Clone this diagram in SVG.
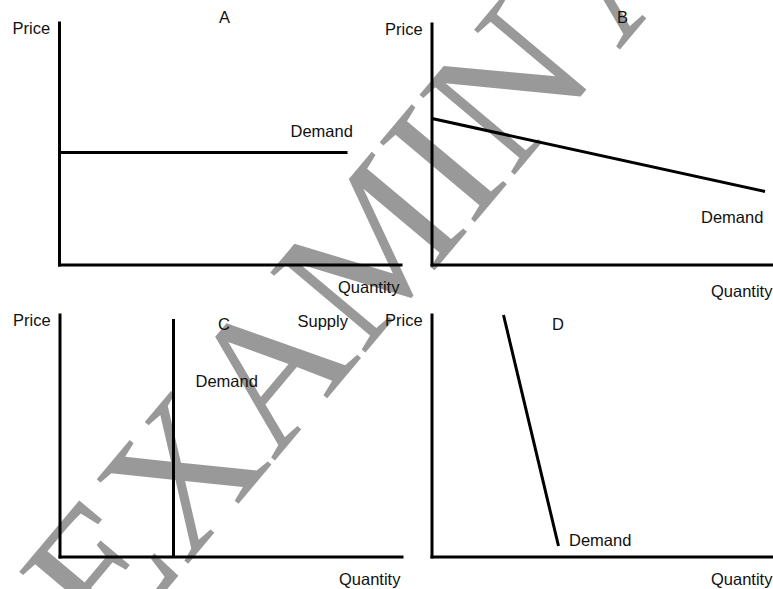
<svg xmlns="http://www.w3.org/2000/svg" width="773" height="589" viewBox="0 0 773 589">
<style>
.ax{stroke:#000;stroke-width:3;fill:none;stroke-linecap:square}
.cv{stroke:#000;stroke-width:3;fill:none}
.t{font-family:"Liberation Sans",Arial,sans-serif;font-size:16.5px;fill:#111}
.wm{font-family:"Liberation Serif","Times New Roman",serif;font-size:190px;fill:#999}
</style>
<rect width="773" height="589" fill="#fff"/>
<g id="watermark">
<text class="wm" transform="translate(111,656) rotate(-50)">EXAMIN<tspan dx="30">A</tspan></text>
</g>
<g id="panelA">
<line class="ax" x1="59.5" y1="23" x2="59.5" y2="265"/>
<line class="ax" x1="59.5" y1="265" x2="401" y2="265"/>
<text class="t" x="12.5" y="34">Price</text>
<text class="t" x="219" y="22.5">A</text>
<text class="t" x="290.5" y="136.5">Demand</text>
<text class="t" x="338" y="293">Quantity</text>
</g>
<g id="panelB">
<line class="ax" x1="432" y1="24" x2="432" y2="265"/>
<line class="ax" x1="432" y1="265" x2="773" y2="265"/>
<text class="t" x="385" y="34.5">Price</text>
<text class="t" x="617" y="23">B</text>
<text class="t" x="701" y="223">Demand</text>
<text class="t" x="711" y="296.5">Quantity</text>
</g>
<g id="panelC">
<line class="ax" x1="60" y1="315" x2="60" y2="557"/>
<line class="ax" x1="60" y1="557" x2="402" y2="557"/>
<text class="t" x="13" y="326">Price</text>
<text class="t" x="218" y="330">C</text>
<text class="t" x="297.5" y="327">Supply</text>
<text class="t" x="195.5" y="386.5">Demand</text>
<text class="t" x="339" y="585">Quantity</text>
</g>
<g id="panelD">
<line class="ax" x1="432" y1="315" x2="432" y2="557"/>
<line class="ax" x1="432" y1="557" x2="773" y2="557"/>
<text class="t" x="385" y="325.5">Price</text>
<text class="t" x="552" y="330">D</text>
<text class="t" x="569" y="546">Demand</text>
<text class="t" x="711" y="585">Quantity</text>
</g>
<g id="connectors">
<line class="cv" x1="59.5" y1="152.5" x2="347.5" y2="152.5"/>
<line class="cv" x1="432" y1="118.5" x2="765" y2="191.5"/>
<line class="cv" x1="173.5" y1="319" x2="173.5" y2="557"/>
<line class="cv" x1="503.5" y1="315" x2="558.5" y2="546"/>
</g>
</svg>
